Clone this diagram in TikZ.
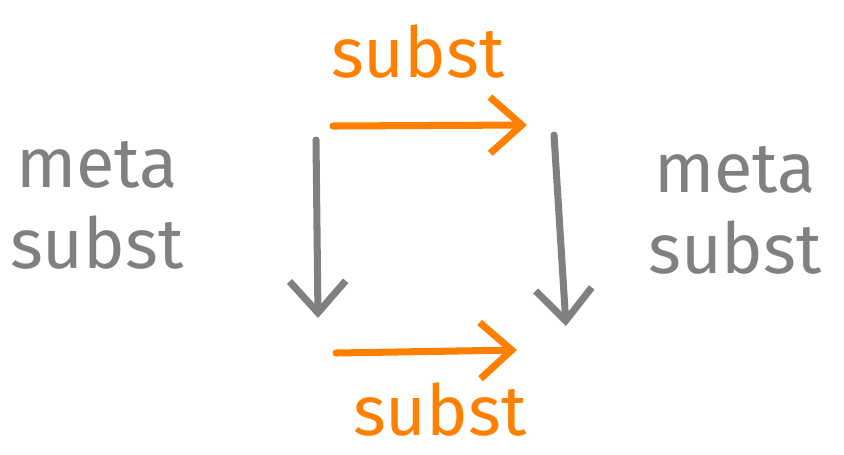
\documentclass[tikz,border=0pt]{standalone}
\usepackage{fontspec}
\setmainfont{Fira Sans}
\usetikzlibrary{arrows.meta}
\definecolor{inkgray}{HTML}{808080}
\definecolor{inkorange}{HTML}{FF8000}
\begin{document}
\begin{tikzpicture}[x=0.02cm,y=-0.02cm,
  lbl/.style={font=\fontsize{40}{46}\selectfont, align=center, inner sep=0pt},
  stroke/.style={line width=4pt, line cap=round,
    -{Straight Barb[length=18pt,width=32pt,line width=4pt]}}]
\useasboundingbox (0,0) rectangle (844,454);
% side labels
\node[lbl, text=inkgray] (ml) at (97,205) {meta\\subst};
\node[lbl, text=inkgray] (mr) at (735,210) {meta\\subst};
% arrow labels
\node[lbl, text=inkorange] (st) at (418,52) {subst};
\node[lbl, text=inkorange] (sb) at (440,410) {subst};
% corners of the square
\coordinate (tl) at (333,126);
\coordinate (tr) at (527,125);
\coordinate (lt) at (316,140);
\coordinate (lb) at (318,318);
\coordinate (rt) at (554,135);
\coordinate (rb) at (566,326);
\coordinate (bl) at (336,353);
\coordinate (br) at (517,350);
% arrows
\draw[stroke, draw=inkorange] (tl) -- (tr);
\draw[stroke, draw=inkgray] (lt) -- (lb);
\draw[stroke, draw=inkgray] (rt) -- (rb);
\draw[stroke, draw=inkorange] (bl) -- (br);
\end{tikzpicture}
\end{document}
